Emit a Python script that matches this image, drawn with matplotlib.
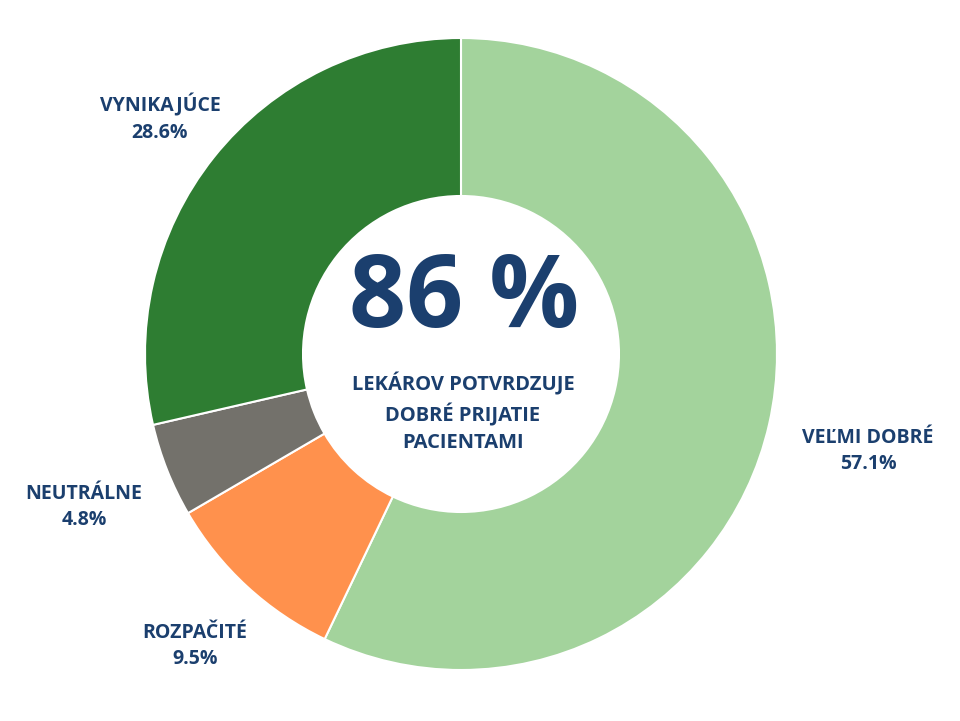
import matplotlib
matplotlib.use("Agg")
import matplotlib.pyplot as plt

categories = ["VEĽMI DOBRÉ", "ROZPAČITÉ", "NEUTRÁLNE", "VYNIKAJÚCE"]
values = [57.1, 9.5, 4.8, 28.6]
colors = ["#a3d39c", "#ff914d", "#73716b", "#2e7d32"]
label_pos = [(868, 451), (195, 646), (84, 507), (160, 118)]
text_color = "#1b3f6e"

plt.rcParams['font.family'] = ['Open Sans', 'DejaVu Sans']
fig = plt.figure(figsize=(9.6, 7.21), dpi=100)
ax = fig.add_axes([0, 0, 1, 1])

H = 721
ax.pie(values, colors=colors, startangle=90, counterclock=False,
       center=(461, H - 354), radius=316, frame=True,
       wedgeprops=dict(width=158, edgecolor='white', linewidth=1.5))
ax.set_xlim(0, 960)
ax.set_ylim(0, 721)
ax.set_aspect('equal')
ax.axis('off')

for cat, v, (x, y) in zip(categories, values, label_pos):
    ax.text(x, H - y, f"{cat}\n{v:.1f}%", ha='center', va='center',
            fontsize=14, fontweight='bold', color=text_color, linespacing=1.45)

ax.text(464, H - 300, "86 %", ha='center', va='center', fontsize=72,
        fontweight='bold', color=text_color)
ax.text(463, H - 413, "LEKÁROV POTVRDZUJE\nDOBRÉ PRIJATIE\nPACIENTAMI",
        ha='center', va='center', fontsize=14.5, fontweight='bold',
        color=text_color, linespacing=1.45)

fig.savefig("out.png", dpi=100, facecolor='white')
